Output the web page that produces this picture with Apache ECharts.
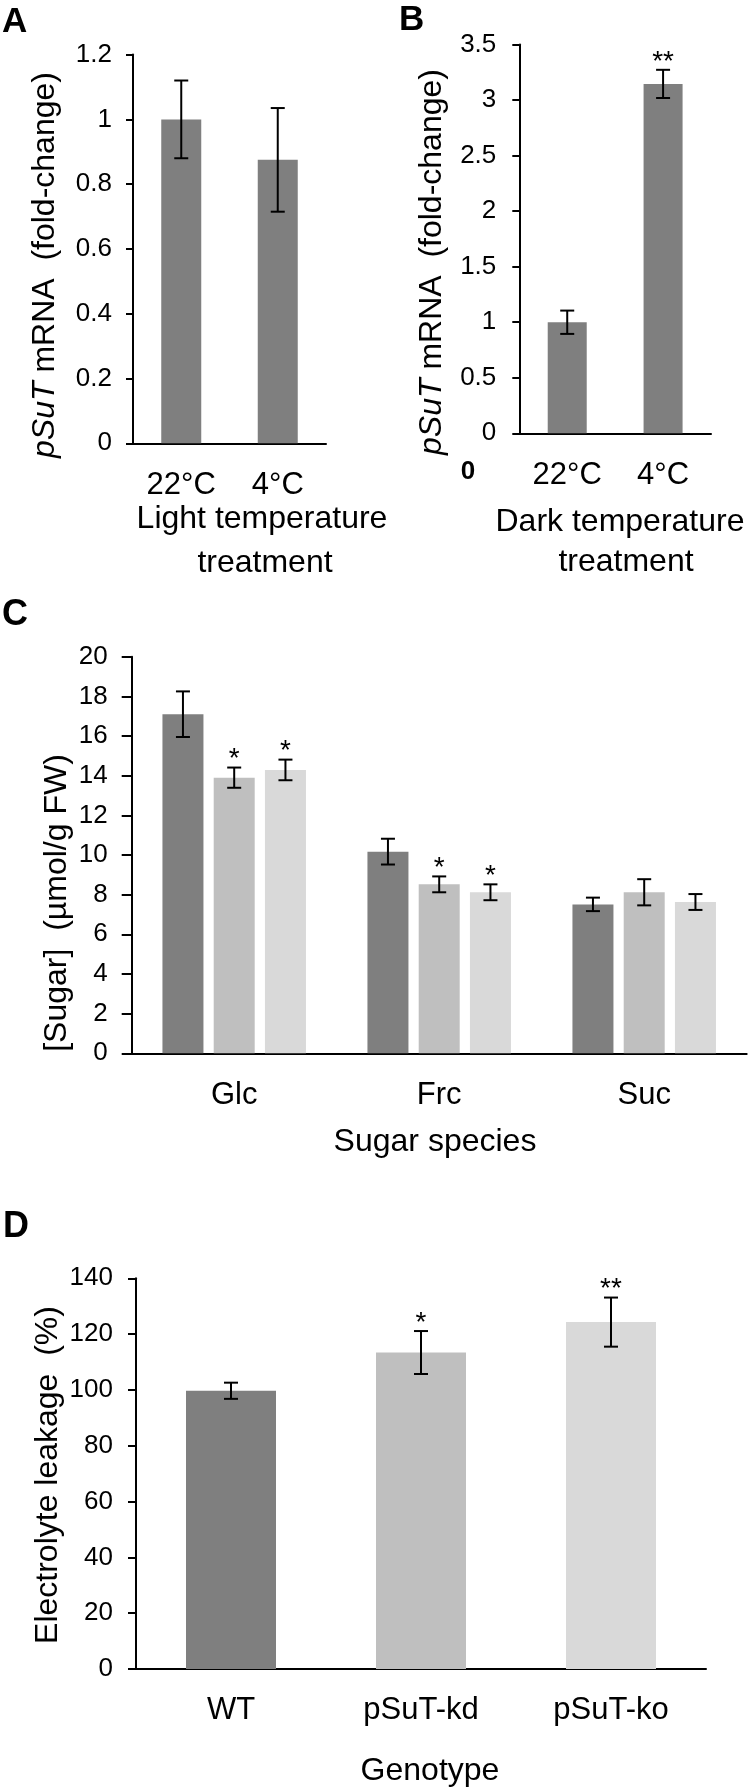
<!DOCTYPE html>
<html>
<head>
<meta charset="utf-8">
<script src="https://cdn.jsdelivr.net/npm/echarts@6/dist/echarts.min.js"></script>
<style>
html,body{margin:0;padding:0;background:#fff;}
#chart{width:752px;height:1790px;}
</style>
</head>
<body>
<div id="chart"></div>
<script>
// ---------- data ----------
const catsA = ['22°C', '4°C'];
const valsA = [1.0, 0.875];
const errA  = [0.12, 0.16];
const sigA  = ['', ''];

const catsB = ['22°C', '4°C'];
const valsB = [1.0, 3.146];
const errB  = [0.105, 0.127];
const sigB  = ['', '**'];

const catsC = ['Glc', 'Frc', 'Suc'];
const namesC = ['WT', 'pSuT-kd', 'pSuT-ko'];
const valsCwt = [17.1, 10.17, 7.51];
const errCwt  = [1.15, 0.65, 0.34];
const sigCwt  = ['', '', ''];
const valsCkd = [13.9, 8.52, 8.12];
const errCkd  = [0.51, 0.40, 0.66];
const sigCkd  = ['*', '*', ''];
const valsCko = [14.29, 8.12, 7.63];
const errCko  = [0.52, 0.40, 0.40];
const sigCko  = ['*', '*', ''];

const catsD = ['WT', 'pSuT-kd', 'pSuT-ko'];
const valsD = [99.7, 113.4, 124.3];
const errD  = [2.9, 7.7, 8.8];
const sigD  = ['', '*', '**'];

// ---------- styling ----------
const FF = '"Liberation Sans", Arial, Helvetica, sans-serif';
const C1 = '#7f7f7f', C2 = '#bfbfbf', C3 = '#d9d9d9';
const BLACK = '#000';

const chart = echarts.init(document.getElementById('chart'), null, {renderer: 'canvas'});

function errSeries(xi, vals, errs, sigs, offsetPx) {
  return {
    type: 'custom',
    xAxisIndex: xi, yAxisIndex: xi,
    clip: false,
    z: 10,
    data: vals.map((v, i) => [i, v, errs[i]]),
    encode: {x: 0, y: 1},
    renderItem: function (params, api) {
      const c = api.value(0), m = api.value(1), e = api.value(2);
      const pt = api.coord([c, m + e]);
      const pb = api.coord([c, m - e]);
      const x = pt[0] + offsetPx;
      const cap = 7;
      const ls = {stroke: BLACK, lineWidth: 2};
      const children = [
        {type: 'line', shape: {x1: x, y1: pt[1], x2: x, y2: pb[1]}, style: ls},
        {type: 'line', shape: {x1: x - cap, y1: pt[1], x2: x + cap, y2: pt[1]}, style: ls},
        {type: 'line', shape: {x1: x - cap, y1: pb[1], x2: x + cap, y2: pb[1]}, style: ls}
      ];
      const s = sigs[params.dataIndex];
      if (s) {
        children.push({type: 'text', x: x, y: pt[1] + 6,
          style: {text: s, fontSize: 28, fontFamily: FF, fill: BLACK, align: 'center', verticalAlign: 'bottom'}});
      }
      return {type: 'group', children: children};
    }
  };
}

function xAx(gi, cats, fs, margin) {
  return {
    type: 'category', gridIndex: gi, data: cats,
    axisLine: {show: true, lineStyle: {color: BLACK, width: 2}},
    axisTick: {show: false},
    splitLine: {show: false},
    axisLabel: {fontSize: fs, fontFamily: FF, color: BLACK, margin: margin}
  };
}
function yAx(gi, max, interval, tickLen, margin) {
  return {
    type: 'value', gridIndex: gi, min: 0, max: max, interval: interval,
    axisLine: {show: true, lineStyle: {color: BLACK, width: 2}},
    axisTick: {show: true, inside: false, length: tickLen, lineStyle: {color: BLACK, width: 2}},
    splitLine: {show: false},
    axisLabel: {fontSize: 26, fontFamily: FF, color: BLACK, margin: margin}
  };
}

function txt(x, y, text, size, opts) {
  opts = opts || {};
  return {
    type: 'text', x: x, y: y, rotation: opts.rot || 0, z: 20,
    style: Object.assign({
      text: text, fontSize: size, fontFamily: FF, fill: BLACK,
      fontWeight: opts.bold ? 'bold' : 'normal',
      align: opts.align || 'center', verticalAlign: opts.va || 'middle'
    }, opts.rich ? {rich: opts.rich} : {})
  };
}
const richI = {i: {fontStyle: 'italic', fontSize: 32, fontFamily: FF, fill: BLACK}, n: {fontSize: 32, fontFamily: FF, fill: BLACK}};

// offsets inside group for panel C
const bwC = 41, gapC = 10.25;

const option = {
  animation: false,
  backgroundColor: '#fff',
  grid: [
    {left: 133, top: 54.6, width: 193, height: 388.7},
    {left: 519.3, top: 44.6, width: 191.7, height: 388.7},
    {left: 131.7, top: 656.7, width: 615, height: 396.6},
    {left: 136, top: 1278.3, width: 570, height: 390.7}
  ],
  xAxis: [
    xAx(0, catsA, 31, 27),
    xAx(1, catsB, 31, 27),
    xAx(2, catsC, 31, 27),
    xAx(3, catsD, 31, 26)
  ],
  yAxis: [
    yAx(0, 1.2, 0.2, 7, 21),
    yAx(1, 3.5, 0.5, 7, 23),
    yAx(2, 20, 2, 10, 24),
    yAx(3, 140, 20, 8, 23)
  ],
  series: [
    {type: 'bar', xAxisIndex: 0, yAxisIndex: 0, data: valsA, barWidth: 40, itemStyle: {color: C1}},
    errSeries(0, valsA, errA, sigA, 0),
    {type: 'bar', xAxisIndex: 1, yAxisIndex: 1, data: valsB, barWidth: 39, itemStyle: {color: C1}},
    errSeries(1, valsB, errB, sigB, 0),
    {type: 'bar', name: namesC[0], xAxisIndex: 2, yAxisIndex: 2, data: valsCwt, barWidth: bwC, barGap: '25%', itemStyle: {color: C1}},
    {type: 'bar', name: namesC[1], xAxisIndex: 2, yAxisIndex: 2, data: valsCkd, barWidth: bwC, barGap: '25%', itemStyle: {color: C2}},
    {type: 'bar', name: namesC[2], xAxisIndex: 2, yAxisIndex: 2, data: valsCko, barWidth: bwC, barGap: '25%', itemStyle: {color: C3}},
    errSeries(2, valsCwt, errCwt, sigCwt, -(bwC + gapC)),
    errSeries(2, valsCkd, errCkd, sigCkd, 0),
    errSeries(2, valsCko, errCko, sigCko, (bwC + gapC)),
    {type: 'bar', xAxisIndex: 3, yAxisIndex: 3, data: valsD.map((v, i) => ({value: v, itemStyle: {color: [C1, C2, C3][i]}})), barWidth: 90},
    errSeries(3, valsD, errD, sigD, 0)
  ],
  graphic: [
    txt(2, 22, 'A', 35, {bold: true, align: 'left'}),
    txt(399, 20, 'B', 35, {bold: true, align: 'left'}),
    txt(2, 615, 'C', 36, {bold: true, align: 'left'}),
    txt(3, 1227, 'D', 36, {bold: true, align: 'left'}),
    // y titles
    txt(45, 265, '{i|pSuT}{n| mRNA  (fold-change)}', 32, {rot: Math.PI / 2, rich: richI}),
    txt(432, 262, '{i|pSuT}{n| mRNA  (fold-change)}', 32, {rot: Math.PI / 2, rich: richI}),
    txt(57, 903, '[Sugar]  (µmol/g FW)', 32, {rot: Math.PI / 2}),
    txt(48, 1475, 'Electrolyte leakage  (%)', 32, {rot: Math.PI / 2}),
    // x titles
    txt(262, 519, 'Light temperature', 32),
    txt(265, 563, 'treatment', 32),
    txt(620, 522, 'Dark temperature', 32),
    txt(626, 562, 'treatment', 32),
    txt(435, 1142, 'Sugar species', 32),
    txt(430, 1771, 'Genotype', 32),
    // stray bold zero in panel B
    txt(468, 472, '0', 26, {bold: true})
  ]
};
chart.setOption(option);
</script>
</body>
</html>
